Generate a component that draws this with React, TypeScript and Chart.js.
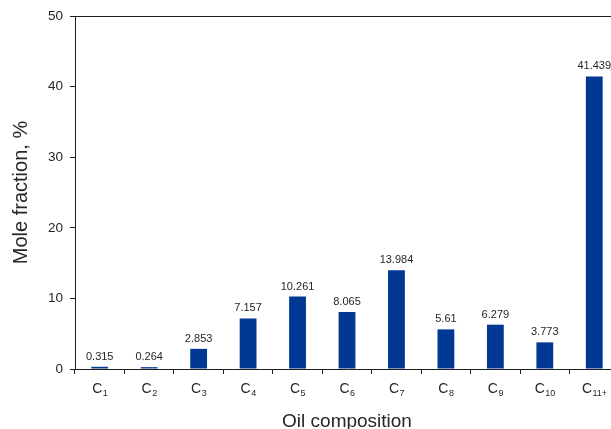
import { useEffect, useRef } from 'react';
import { Chart, registerables } from 'chart.js';

Chart.register(...registerables);

// Carbon-number groups (drawn as C with a subscript)
const carbonGroups = ['1', '2', '3', '4', '5', '6', '7', '8', '9', '10', '11+'];
// Mole fraction of each group, %
const moleFraction = [0.315, 0.264, 2.853, 7.157, 10.261, 8.065, 13.984, 5.61, 6.279, 3.773, 41.439];
const yTickValues = [0, 10, 20, 30, 40, 50];

const FONT = '"Liberation Sans", Arial, Helvetica, sans-serif';
const TEXT = '#262626';
const AXIS = '#1e1e1e';
const BAR = '#003894';

const annotate = {
  id: 'annotate',
  afterDraw(chart: any) {
    const { ctx, chartArea, scales } = chart;
    const xs = scales.x;
    ctx.save();

    // top frame line
    ctx.strokeStyle = AXIS;
    ctx.lineWidth = 1;
    ctx.beginPath();
    ctx.moveTo(chartArea.left, chartArea.top + 0.5);
    ctx.lineTo(chartArea.right, chartArea.top + 0.5);
    ctx.stroke();

    // category labels: C with subscript
    ctx.fillStyle = TEXT;
    ctx.textAlign = 'left';
    ctx.textBaseline = 'alphabetic';
    carbonGroups.forEach((sub, i) => {
      const cx = xs.getPixelForValue(i);
      ctx.font = `14px ${FONT}`;
      const wC = ctx.measureText('C').width;
      ctx.font = `9px ${FONT}`;
      const wS = ctx.measureText(sub).width;
      const start = cx - (wC + wS) / 2;
      const base = chartArea.bottom + 24;
      ctx.font = `14px ${FONT}`;
      ctx.fillText('C', start, base);
      ctx.font = `9px ${FONT}`;
      ctx.fillText(sub, start + wC + 0.5, base + 3);
    });

    // value labels above the bars
    ctx.textAlign = 'center';
    ctx.font = `11px ${FONT}`;
    const meta = chart.getDatasetMeta(0);
    meta.data.forEach((bar: any, i: number) => {
      ctx.fillText(String(moleFraction[i]), bar.x, bar.y - 7);
    });
    ctx.restore();
  },
};

export default function App() {
  const ref = useRef<HTMLCanvasElement>(null);

  useEffect(() => {
    if (!ref.current) return;
    const chart = new Chart(ref.current, {
      type: 'bar',
      data: {
        labels: carbonGroups.map((s) => 'C' + s),
        datasets: [
          {
            data: moleFraction,
            backgroundColor: BAR,
            borderWidth: 0,
            categoryPercentage: 1,
            barPercentage: 0.34,
          },
        ],
      },
      options: {
        responsive: false,
        animation: false,
        layout: { padding: { top: 16, right: 1, left: 0, bottom: 0 } },
        plugins: {
          legend: { display: false },
          tooltip: { enabled: false },
        },
        scales: {
          x: {
            offset: true,
            grid: {
              offset: true,
              drawOnChartArea: false,
              drawTicks: true,
              tickLength: 5,
              color: AXIS,
            },
            border: { color: AXIS, width: 1 },
            ticks: { callback: () => '', color: TEXT },
            title: {
              display: true,
              text: 'Oil composition',
              color: TEXT,
              font: { family: FONT, size: 19 },
              padding: { top: 0, bottom: -4 },
            },
            afterFit: (s: any) => {
              s.height = 60;
            },
          },
          y: {
            min: 0,
            max: 50,
            afterBuildTicks: (s: any) => {
              s.ticks = yTickValues.map((v) => ({ value: v }));
            },
            grid: {
              drawOnChartArea: false,
              drawTicks: true,
              tickLength: 5,
              color: AXIS,
            },
            border: { color: AXIS, width: 1 },
            ticks: {
              color: TEXT,
              padding: 7,
              font: { family: FONT, size: 13.5 },
            },
            title: {
              display: true,
              text: 'Mole fraction, %',
              color: TEXT,
              font: { family: FONT, size: 20 },
              padding: { top: 9, bottom: 0 },
            },
            afterFit: (s: any) => {
              s.width = 75;
            },
          },
        },
      },
      plugins: [annotate],
    });
    return () => chart.destroy();
  }, []);

  return (
    <div style={{ position: 'fixed', left: 0, top: 0, width: 611, height: 429, overflow: 'hidden', background: '#fff' }}>
      <canvas ref={ref} width={620} height={429} />
    </div>
  );
}
